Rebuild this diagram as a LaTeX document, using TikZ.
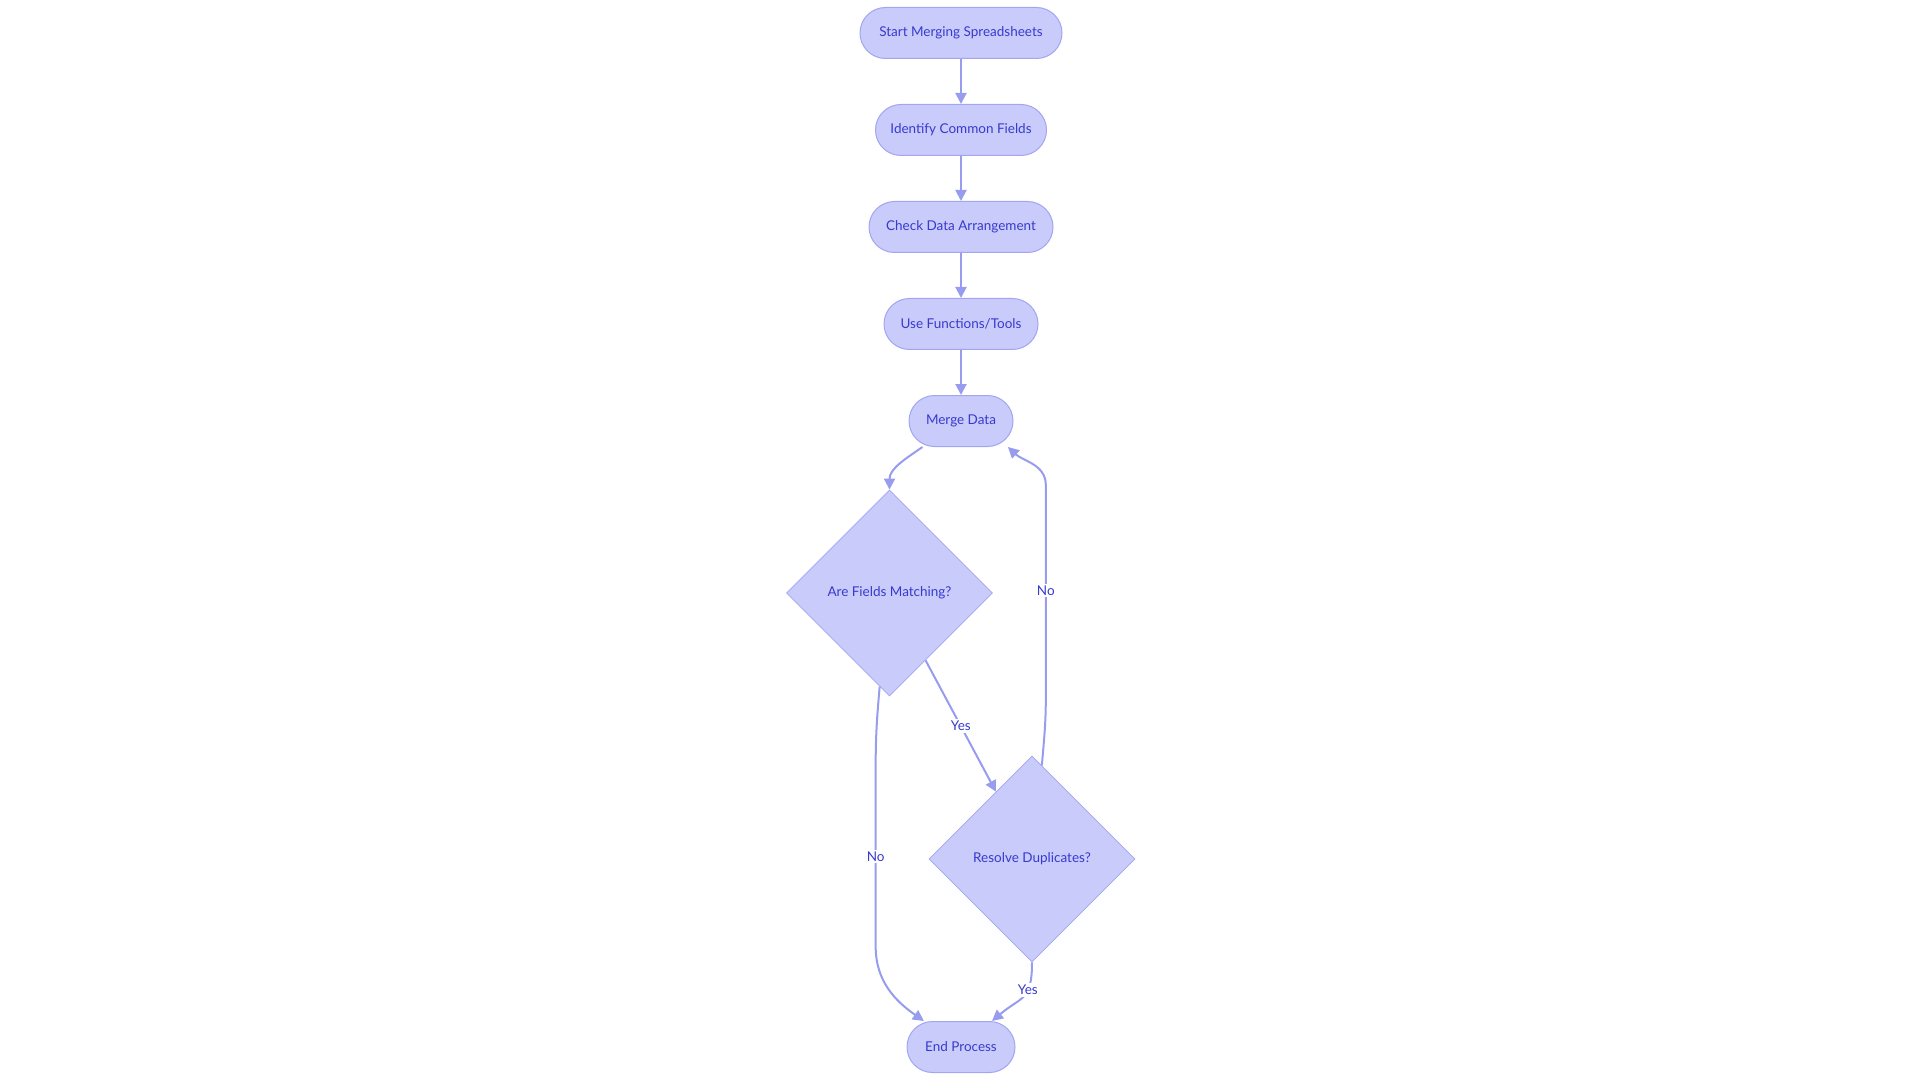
\documentclass[tikz,border=0pt]{standalone}
\usepackage{fontspec}
\setmainfont{Lato}
\usetikzlibrary{shapes,arrows.meta,positioning,calc}

\definecolor{nodefill}{RGB}{201,203,251}
\definecolor{nodeline}{RGB}{162,165,240}
\definecolor{edgeline}{RGB}{152,156,238}
\definecolor{nodetext}{RGB}{55,58,205}

\begin{document}
\begin{tikzpicture}[x=1pt, y=1pt, node distance=45pt, font=\fontsize{13.5}{16}\selectfont]

% Define styles
\tikzstyle{stepnode} = [rectangle, rounded corners=25.5pt, minimum height=51pt, inner xsep=4pt, draw=nodeline, fill=nodefill, line width=1pt, text=nodetext]
\tikzstyle{decision} = [diamond, minimum width=206pt, minimum height=206pt, inner sep=0pt, draw=nodeline, fill=nodefill, line width=0.8pt, text=nodetext]
\tikzstyle{arrow} = [line width=2pt, draw=edgeline, -{Triangle[length=11pt, width=11pt]}]
\tikzstyle{edge_label} = [fill=white, text=nodetext, inner sep=2pt]

\useasboundingbox (0,0) rectangle (1920,-1083);

% Main steps
\node (start) [stepnode, minimum width=202pt] at (961,-33) {Start Merging Spreadsheets};
\node (fields) [stepnode, minimum width=171pt, below=of start] {Identify Common Fields};
\node (arrange) [stepnode, minimum width=184pt, below=of fields] {Check Data Arrangement};
\node (tools) [stepnode, minimum width=154pt, below=of arrange] {Use Functions/Tools};
\node (merge) [stepnode, minimum width=104pt, below=of tools] {Merge Data};

% Decisions
\node (match) [decision] at (889.5,-593) {Are Fields Matching?};
\node (dupes) [decision] at (1032,-859) {Resolve Duplicates?};
\node (finish) [stepnode, minimum width=108pt] at (961,-1047) {End Process};

% Connect steps
\draw [arrow] (start) -- (fields);
\draw [arrow] (fields) -- (arrange);
\draw [arrow] (arrange) -- (tools);
\draw [arrow] (tools) -- (merge);
\draw [arrow] (merge.214) to[out=-145, in=90] (match.north);

% Decision branches
\draw [arrow] (match) -- node[edge_label] {Yes} (dupes);
\draw [arrow] (match.264) to[out=-95, in=90] ++(-4,-80) -- node[edge_label] {No} ++(0,-180) to[out=-90, in=145] (finish.145);
\draw [arrow] (dupes.south) to[out=-90, in=40, looseness=1.4] node[edge_label, pos=0.35] {Yes} (finish.40);
\draw [arrow] (dupes.84) to[out=85, in=-90] ++(4,70) -- node[edge_label] {No} ++(0,210) to[out=90, in=-43] (merge.-29);

\end{tikzpicture}
\end{document}
